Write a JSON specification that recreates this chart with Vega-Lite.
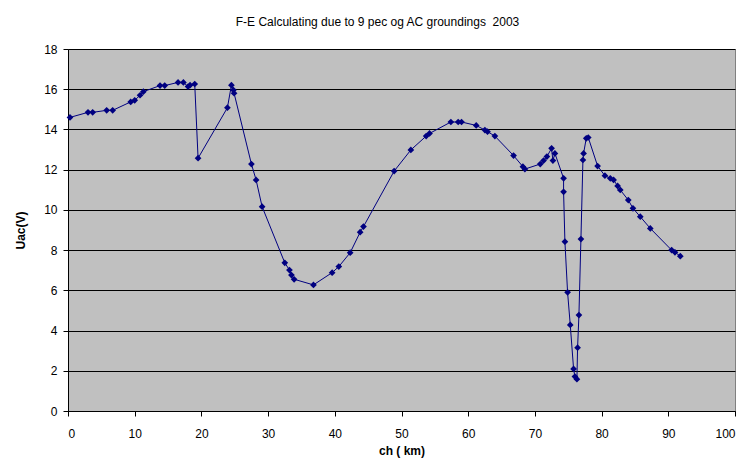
{
  "$schema": "https://vega.github.io/schema/vega-lite/v6.json",
  "autosize": "none",
  "width": 667,
  "height": 362,
  "padding": {"left": 68, "top": 49, "right": 14, "bottom": 56},
  "background": "white",
  "title": {
    "text": "F-E Calculating due to 9 pec og AC groundings\u00a0\u00a02003",
    "font": "Liberation Sans",
    "fontSize": 12,
    "fontWeight": "normal",
    "color": "#000000",
    "anchor": "middle",
    "dx": -24,
    "offset": 14
  },
  "data": {
    "values": [
      {"i": 1, "ch": 0.3, "u": 14.6},
      {"i": 2, "ch": 3.0, "u": 14.85},
      {"i": 3, "ch": 3.7, "u": 14.85},
      {"i": 4, "ch": 5.8, "u": 14.95},
      {"i": 5, "ch": 6.7, "u": 14.95},
      {"i": 6, "ch": 9.4, "u": 15.37},
      {"i": 7, "ch": 10.0, "u": 15.45},
      {"i": 8, "ch": 10.8, "u": 15.7},
      {"i": 9, "ch": 11.3, "u": 15.88},
      {"i": 10, "ch": 13.8, "u": 16.18},
      {"i": 11, "ch": 14.5, "u": 16.18},
      {"i": 12, "ch": 16.5, "u": 16.34},
      {"i": 13, "ch": 17.3, "u": 16.34},
      {"i": 14, "ch": 18.0, "u": 16.13},
      {"i": 15, "ch": 18.3, "u": 16.2},
      {"i": 16, "ch": 19.0, "u": 16.26},
      {"i": 17, "ch": 19.5, "u": 12.57},
      {"i": 18, "ch": 23.9, "u": 15.08},
      {"i": 19, "ch": 24.5, "u": 16.2},
      {"i": 20, "ch": 24.8, "u": 15.96},
      {"i": 21, "ch": 24.9, "u": 15.8},
      {"i": 22, "ch": 27.5, "u": 12.28},
      {"i": 23, "ch": 28.2, "u": 11.49},
      {"i": 24, "ch": 29.1, "u": 10.16},
      {"i": 25, "ch": 32.5, "u": 7.37},
      {"i": 26, "ch": 33.2, "u": 7.01},
      {"i": 27, "ch": 33.5, "u": 6.76},
      {"i": 28, "ch": 33.9, "u": 6.55},
      {"i": 29, "ch": 36.8, "u": 6.27},
      {"i": 30, "ch": 39.6, "u": 6.88},
      {"i": 31, "ch": 40.6, "u": 7.18},
      {"i": 32, "ch": 42.3, "u": 7.87},
      {"i": 33, "ch": 43.8, "u": 8.89},
      {"i": 34, "ch": 44.3, "u": 9.17},
      {"i": 35, "ch": 48.9, "u": 11.93},
      {"i": 36, "ch": 51.4, "u": 12.98},
      {"i": 37, "ch": 53.7, "u": 13.67},
      {"i": 38, "ch": 54.2, "u": 13.8},
      {"i": 39, "ch": 57.4, "u": 14.37},
      {"i": 40, "ch": 58.5, "u": 14.37},
      {"i": 41, "ch": 59.0, "u": 14.37},
      {"i": 42, "ch": 61.2, "u": 14.2},
      {"i": 43, "ch": 62.5, "u": 13.97},
      {"i": 44, "ch": 62.9, "u": 13.89},
      {"i": 45, "ch": 64.0, "u": 13.67},
      {"i": 46, "ch": 66.8, "u": 12.7},
      {"i": 47, "ch": 68.2, "u": 12.15},
      {"i": 48, "ch": 68.5, "u": 12.03},
      {"i": 49, "ch": 70.8, "u": 12.28},
      {"i": 50, "ch": 71.3, "u": 12.45},
      {"i": 51, "ch": 71.8, "u": 12.65},
      {"i": 52, "ch": 72.5, "u": 13.06},
      {"i": 53, "ch": 72.7, "u": 12.45},
      {"i": 54, "ch": 73.0, "u": 12.81},
      {"i": 55, "ch": 74.3, "u": 11.57},
      {"i": 56, "ch": 74.3, "u": 10.9},
      {"i": 57, "ch": 74.5, "u": 8.42},
      {"i": 58, "ch": 74.9, "u": 5.9},
      {"i": 59, "ch": 75.3, "u": 4.28},
      {"i": 60, "ch": 75.8, "u": 2.09},
      {"i": 61, "ch": 76.0, "u": 1.71},
      {"i": 62, "ch": 76.3, "u": 1.58},
      {"i": 63, "ch": 76.4, "u": 3.15},
      {"i": 64, "ch": 76.6, "u": 4.77},
      {"i": 65, "ch": 76.9, "u": 8.55},
      {"i": 66, "ch": 77.2, "u": 12.48},
      {"i": 67, "ch": 77.3, "u": 12.81},
      {"i": 68, "ch": 77.7, "u": 13.56},
      {"i": 69, "ch": 78.0, "u": 13.6},
      {"i": 70, "ch": 79.4, "u": 12.18},
      {"i": 71, "ch": 80.5, "u": 11.7},
      {"i": 72, "ch": 81.3, "u": 11.57},
      {"i": 73, "ch": 81.8, "u": 11.49},
      {"i": 74, "ch": 82.4, "u": 11.19},
      {"i": 75, "ch": 82.8, "u": 10.99},
      {"i": 76, "ch": 84.0, "u": 10.49},
      {"i": 77, "ch": 84.7, "u": 10.08},
      {"i": 78, "ch": 85.8, "u": 9.66},
      {"i": 79, "ch": 87.3, "u": 9.08},
      {"i": 80, "ch": 90.5, "u": 8.0},
      {"i": 81, "ch": 91.0, "u": 7.89},
      {"i": 82, "ch": 91.8, "u": 7.7}
    ]
  },
  "encoding": {
    "x": {
      "field": "ch", "type": "quantitative",
      "scale": {"domain": [0, 100], "nice": false, "zero": false},
      "axis": {
        "title": "ch ( km)", "values": [0,10,20,30,40,50,60,70,80,90,100],
        "grid": false, "domainColor": "#000", "tickColor": "#000", "tickSize": 5,
        "labelFont": "Liberation Sans", "labelFontSize": 12, "labelColor": "#000", "labelPadding": 12,
        "titleFont": "Liberation Sans", "titleFontSize": 12, "titleFontWeight": "bold", "titleColor": "#000", "titlePadding": 6
      }
    },
    "y": {
      "field": "u", "type": "quantitative",
      "scale": {"domain": [0, 18], "nice": false},
      "axis": {
        "title": "Uac(V)", "values": [0,2,4,6,8,10,12,14,16,18],
        "grid": true, "gridColor": "#000", "gridOpacity": 1, "gridWidth": 1,
        "domainColor": "#000", "tickColor": "#000", "tickSize": 5,
        "labelFont": "Liberation Sans", "labelFontSize": 12, "labelColor": "#000", "labelPadding": 6,
        "titleFont": "Liberation Sans", "titleFontSize": 12, "titleFontWeight": "bold", "titleColor": "#000", "titlePadding": 16
      }
    },
    "order": {"field": "i", "type": "quantitative"}
  },
  "layer": [
    {"mark": {"type": "line", "color": "#000080", "strokeWidth": 1}},
    {"mark": {"type": "point", "shape": "diamond", "filled": true, "color": "#000080", "size": 45, "opacity": 1}}
  ],
  "config": {
    "view": {"fill": "#c0c0c0", "stroke": "#808080", "strokeWidth": 1}
  }
}
